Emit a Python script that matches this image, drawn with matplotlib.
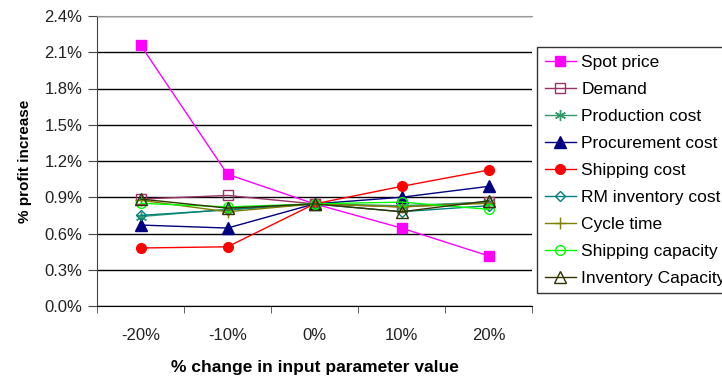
import numpy as np
import matplotlib
matplotlib.use('Agg')
import matplotlib.pyplot as plt

plt.rcParams['font.family'] = ['Liberation Sans', 'DejaVu Sans']

# Chart data (% profit increase)
categories = ['-20%', '-10%', '0%', '10%', '20%']
spot_price = [2.16, 1.09, 0.845, 0.645, 0.415]
demand = [0.885, 0.915, 0.845, 0.82, 0.86]
production_cost = [0.74, 0.80, 0.845, 0.83, 0.86]
procurement_cost = [0.67, 0.645, 0.845, 0.90, 0.99]
shipping_cost = [0.48, 0.49, 0.845, 0.99, 1.125]
rm_inventory_cost = [0.75, 0.795, 0.845, 0.78, 0.83]
cycle_time = [0.875, 0.78, 0.845, 0.82, 0.85]
shipping_capacity = [0.85, 0.82, 0.845, 0.86, 0.80]
inventory_capacity = [0.885, 0.81, 0.845, 0.78, 0.87]

series = [
    ('Spot price', spot_price, '#FF00FF', 's', True, 7),
    ('Demand', demand, '#993366', 's', False, 7),
    ('Production cost', production_cost, '#339966', (6, 2, 0), True, 8),
    ('Procurement cost', procurement_cost, '#000080', '^', True, 8),
    ('Shipping cost', shipping_cost, '#FF0000', 'o', True, 7),
    ('RM inventory cost', rm_inventory_cost, '#008080', 'D', False, 5.5),
    ('Cycle time', cycle_time, '#808000', '+', True, 9),
    ('Shipping capacity', shipping_capacity, '#00FF00', 'o', False, 7),
    ('Inventory Capacity', inventory_capacity, '#333300', '^', False, 8),
]

fig = plt.figure(figsize=(7.22, 3.79), dpi=100)
ax = fig.add_axes([97 / 722, 1 - 306 / 379, 435 / 722, 290 / 379])

x = np.arange(len(categories))
for name, vals, col, mk, filled, ms in series:
    ax.plot(x, vals, color=col, lw=1, marker=mk, ms=ms,
            markerfacecolor=col if filled else 'none',
            markeredgecolor=col, markeredgewidth=1, label=name)

ax.set_xlim(-0.5, len(categories) - 0.5)
ax.set_ylim(0, 2.4)
yt = np.arange(0, 2.41, 0.3)
ax.set_yticks(yt)
ax.set_yticklabels([f'{v:.1f}%' for v in yt], fontsize=12, color='#222222')
ax.yaxis.grid(True, color='black', lw=1)
ax.set_axisbelow(True)

# category labels centered, tick marks on category boundaries
ax.set_xticks(x)
ax.set_xticklabels(categories, fontsize=12, color='#222222')
ax.tick_params(axis='x', which='major', length=0, pad=16)
ax.set_xticks(np.arange(-0.5, len(categories) - 0.4, 1), minor=True)
ax.tick_params(axis='x', which='minor', length=5, direction='out', color='#444444')
ax.tick_params(axis='y', length=6.5, direction='out', color='#444444', pad=4)

ax.spines['right'].set_visible(False)
ax.spines['top'].set_color('#999999')
ax.spines['left'].set_color('#444444')
ax.spines['bottom'].set_color('black')

ax.set_ylabel('% profit increase', fontsize=11, fontweight='bold', labelpad=9)
ax.set_xlabel('% change in input parameter value', fontsize=12.5, fontweight='bold', labelpad=12)

leg = fig.legend(loc='upper left', bbox_to_anchor=(537 / 722, 1 - 47 / 379),
                 fontsize=12.5, frameon=True, fancybox=False, handlelength=1.8,
                 labelspacing=0.68, borderpad=0.45, borderaxespad=0, handletextpad=0.3)
leg.get_frame().set_edgecolor('black')
leg.get_frame().set_linewidth(1)

fig.savefig('out.png', dpi=100)
